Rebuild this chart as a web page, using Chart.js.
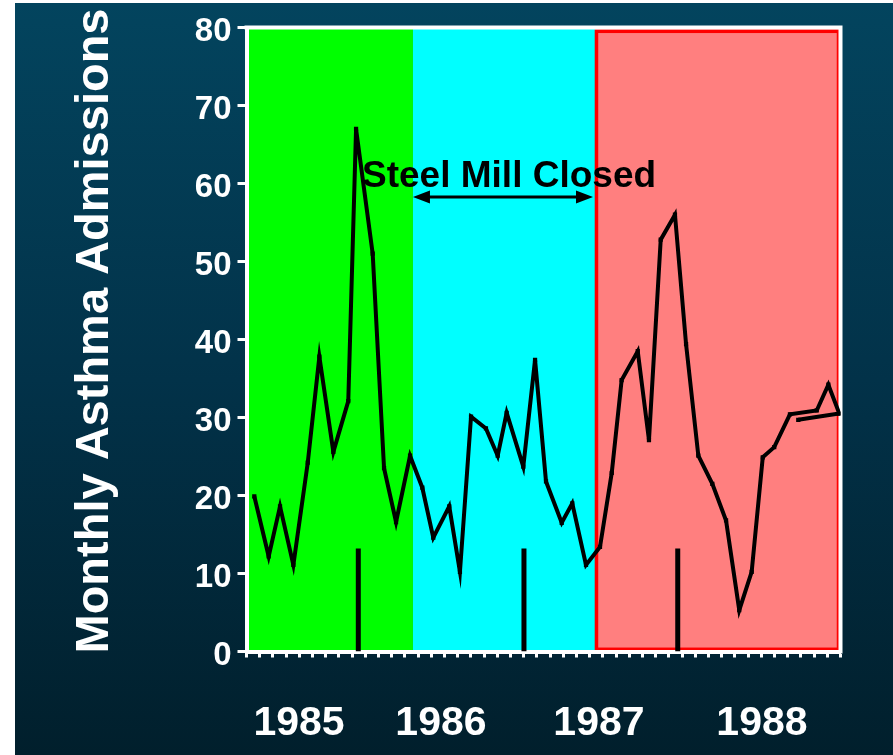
<!DOCTYPE html>
<html>
<head>
<meta charset="utf-8">
<title>Monthly Asthma Admissions</title>
<script src="https://cdn.jsdelivr.net/npm/chart.js@4.4.1/dist/chart.umd.min.js"></script>
<style>
  html, body { margin: 0; padding: 0; background: #fff; }
  #wrap { position: relative; width: 893px; height: 755px; overflow: hidden; }
  #bg { position: absolute; left: 15px; top: 3px; right: 0; bottom: 0;
        background: linear-gradient(to bottom, #03445e 0%, #023249 50%, #011f2c 100%); }
  canvas { position: absolute; left: 0; top: 0; }
</style>
</head>
<body>
<div id="wrap">
  <div id="bg"></div>
  <canvas id="asthmaChart" width="893" height="755"></canvas>
</div>
<script>
// x positions are in axis-tick units (45 small ticks along the bottom axis)
const monthPos = [0.59, 1.68, 2.54, 3.55, 4.64, 5.52, 6.58, 7.71, 8.30, 9.56,
    10.42, 11.33, 12.39, 13.32, 14.15, 15.36, 16.17, 17.01, 18.14, 19.03,
    19.71, 20.97, 21.86, 22.69, 23.88, 24.68, 25.72, 26.78, 27.67, 28.42,
    29.64, 30.49, 31.38, 32.46, 33.30, 34.23, 35.29, 36.33, 37.33, 38.27,
    39.11, 39.98, 41.17, 43.20, 44.08, 44.91, 41.80];
const admissions = [19.9, 12.2, 18.6, 11.1, 24.2, 37.8, 25.6, 32.1, 67.0, 51.0,
    23.5, 16.6, 25.1, 21.0, 14.6, 18.6, 10.2, 30.1, 28.6, 25.1,
    30.6, 23.7, 37.4, 21.8, 16.5, 19.0, 11.1, 13.4, 22.9, 34.8,
    38.5, 27.1, 52.8, 56.0, 39.4, 25.1, 21.5, 16.8, 5.3, 10.2,
    24.9, 26.2, 30.4, 30.9, 34.2, 30.5, 29.7];

// background periods: before / during / after the steel mill closure
const periodStart = [0, 12.61, 26.40];
const periodEnd = [12.61, 26.40, 45];
const periodColors = ['#00ff00', '#00ffff', '#ff7f7f'];

// short black year markers on the floor of the chart
const markerPos = [8.47, 21.02, 32.67];
const markerHeight = 13.2;

const yearLabels = ['1985', '1986', '1987', '1988'];
const yearPos = [3.98, 14.73, 26.70, 39.05];

const annotationText = 'Steel Mill Closed';
const annotationX = 19.89;
const annotationY = 59.55;
const arrowFrom = 12.61;
const arrowTo = 26.25;
const arrowY = 58.27;

const FONT = '"Liberation Sans", Arial, Helvetica, sans-serif';

// Draw the coloured period bands and the white frame before the axes
const backdropPlugin = {
    id: 'backdrop',
    beforeDraw(chart) {
        const { ctx, chartArea, scales } = chart;
        const x = scales.x;
        ctx.save();
        periodStart.forEach((start, i) => {
            const x0 = x.getPixelForValue(start);
            const x1 = x.getPixelForValue(periodEnd[i]);
            ctx.fillStyle = periodColors[i];
            ctx.fillRect(x0, chartArea.top, x1 - x0, chartArea.bottom - chartArea.top);
        });
        // red outline round the last period
        const r0 = x.getPixelForValue(periodStart[2]);
        const r1 = x.getPixelForValue(periodEnd[2]);
        ctx.strokeStyle = '#ff0000';
        ctx.lineWidth = 3.5;
        ctx.strokeRect(r0 + 1.5, chartArea.top + 3.8, r1 - r0 - 3.5, chartArea.bottom - chartArea.top - 6);
        // white frame on top and right
        ctx.strokeStyle = '#ffffff';
        ctx.lineWidth = 4;
        ctx.beginPath();
        ctx.moveTo(chartArea.left - 2, chartArea.top);
        ctx.lineTo(chartArea.right, chartArea.top);
        ctx.lineTo(chartArea.right, chartArea.bottom + 2);
        ctx.stroke();
        ctx.restore();
    }
};

// "Steel Mill Closed" label with its double arrow
const annotationPlugin = {
    id: 'closureNote',
    afterDatasetsDraw(chart) {
        const { ctx, scales } = chart;
        const tx = scales.x.getPixelForValue(annotationX);
        const ty = scales.y.getPixelForValue(annotationY);
        const ax0 = scales.x.getPixelForValue(arrowFrom);
        const ax1 = scales.x.getPixelForValue(arrowTo);
        const ay = scales.y.getPixelForValue(arrowY);
        ctx.save();
        ctx.fillStyle = '#000';
        ctx.font = 'bold 37px ' + FONT;
        ctx.textAlign = 'center';
        ctx.textBaseline = 'alphabetic';
        ctx.fillText(annotationText, tx, ty);

        ctx.strokeStyle = '#000';
        ctx.lineWidth = 3;
        ctx.beginPath();
        ctx.moveTo(ax0 + 10, ay);
        ctx.lineTo(ax1 - 10, ay);
        ctx.stroke();
        ctx.beginPath();
        ctx.moveTo(ax0, ay);
        ctx.lineTo(ax0 + 17, ay - 6.5);
        ctx.lineTo(ax0 + 17, ay + 6.5);
        ctx.closePath();
        ctx.moveTo(ax1, ay);
        ctx.lineTo(ax1 - 17, ay - 6.5);
        ctx.lineTo(ax1 - 17, ay + 6.5);
        ctx.closePath();
        ctx.fill();
        ctx.restore();
    }
};

// rotated y axis title, placed like the slide
const yTitlePlugin = {
    id: 'yTitle',
    afterDraw(chart) {
        const { ctx } = chart;
        ctx.save();
        ctx.translate(108, 331);
        ctx.rotate(-Math.PI / 2);
        ctx.fillStyle = '#ffffff';
        ctx.font = 'bold 47px ' + FONT;
        ctx.textAlign = 'center';
        ctx.textBaseline = 'alphabetic';
        ctx.fillText('Monthly Asthma Admissions', 0, 0);
        ctx.restore();
    }
};

const markerSets = markerPos.map(pos => ({
    data: [{ x: pos, y: 0 }, { x: pos, y: markerHeight }],
    borderColor: '#000',
    borderWidth: 5,
    borderCapStyle: 'butt',
    pointRadius: 0,
    fill: false
}));

const ctx = document.getElementById('asthmaChart').getContext('2d');
const chart = new Chart(ctx, {
    type: 'line',
    data: {
        datasets: [{
            label: 'Monthly Asthma Admissions',
            data: monthPos.map((m, i) => ({ x: m, y: admissions[i] })),
            borderColor: '#000',
            borderWidth: 4,
            tension: 0,
            fill: false,
            pointStyle: 'rect',
            pointRadius: 3,
            pointBackgroundColor: '#000',
            pointBorderColor: '#000',
            pointBorderWidth: 0
        }, ...markerSets]
    },
    options: {
        responsive: false,
        animation: false,
        devicePixelRatio: 1,
        layout: { padding: { top: 27.5, right: 52.5, left: 0, bottom: 0 } },
        plugins: {
            legend: { display: false },
            tooltip: { enabled: false }
        },
        scales: {
            x: {
                type: 'linear',
                position: 'bottom',
                min: 0,
                max: 45,
                weight: 0,
                border: { color: '#ffffff', width: 4 },
                grid: { drawOnChartArea: false, color: '#ffffff', tickLength: 6, tickWidth: 3 },
                ticks: { stepSize: 1, display: false, autoSkip: false },
                afterFit(scale) { scale.height = 10; }
            },
            years: {
                type: 'linear',
                position: 'bottom',
                axis: 'x',
                min: 0,
                max: 45,
                weight: 1,
                border: { display: false },
                grid: { display: false, drawTicks: false },
                afterBuildTicks(scale) { scale.ticks = yearPos.map(v => ({ value: v })); },
                ticks: {
                    autoSkip: false,
                    maxRotation: 0,
                    color: '#ffffff',
                    padding: 42,
                    font: { family: FONT, size: 41, weight: 'bold', lineHeight: 1 },
                    callback: (v, i) => yearLabels[i]
                },
                afterFit(scale) { scale.height = 93.5; }
            },
            y: {
                min: 0,
                max: 80,
                border: { color: '#ffffff', width: 4 },
                grid: { drawOnChartArea: false, color: '#ffffff', tickLength: 9, tickWidth: 3 },
                ticks: {
                    stepSize: 10,
                    color: '#ffffff',
                    padding: 6,
                    labelOffset: 4,
                    font: { family: FONT, size: 33, weight: 'bold' }
                },
                afterFit(scale) { scale.width = 246.5; }
            }
        }
    },
    plugins: [backdropPlugin, annotationPlugin, yTitlePlugin]
});
</script>
</body>
</html>
